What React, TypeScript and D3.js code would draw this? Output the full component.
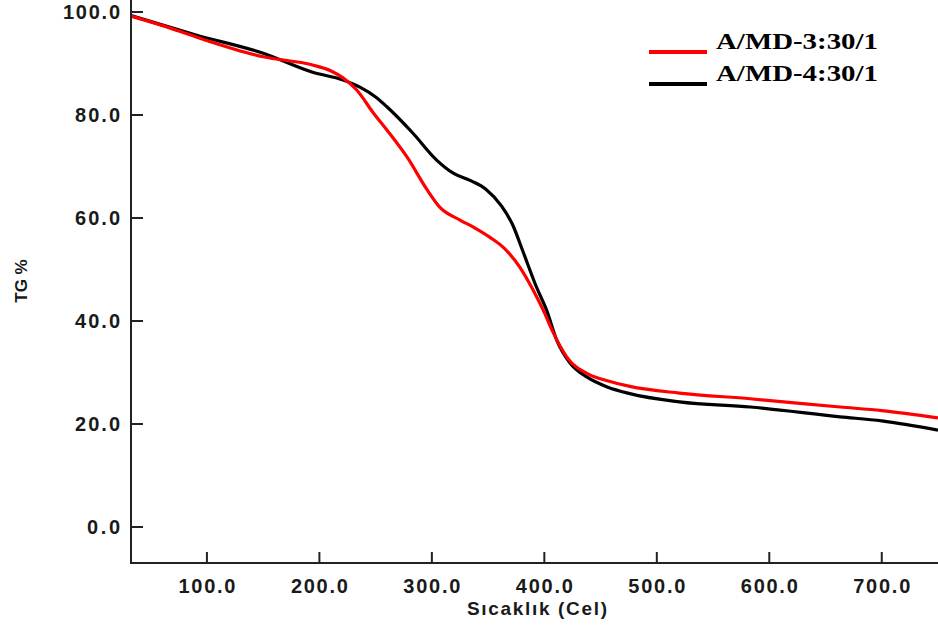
import React from "react";
import * as d3 from "d3";

const redT = [32.5, 60, 91, 150, 194, 210, 221, 233, 248, 260, 278, 296, 307, 325, 338, 352, 364, 378, 390, 399, 408, 420, 440, 456, 476, 520, 583, 663, 700, 750];
const redV = [99.2, 97.4, 95.1, 91.3, 89.7, 88.6, 87.2, 84.9, 80.4, 77.1, 71.8, 65.4, 62.1, 59.6, 58.1, 56.2, 54.2, 50.5, 46.0, 42.1, 37.7, 33.0, 29.6, 28.4, 27.3, 26.0, 24.9, 23.3, 22.6, 21.2];

const blackT = [32.5, 60, 91, 150, 194, 221, 236, 250, 260, 283, 304, 319, 335, 348, 362, 372, 381, 393, 402, 411, 423, 438, 456, 476, 520, 583, 663, 700, 750];
const blackV = [99.3, 97.5, 95.5, 92.0, 88.3, 86.8, 85.4, 83.5, 81.6, 76.5, 71.3, 68.7, 67.2, 65.6, 62.3, 58.6, 53.5, 46.6, 42.1, 36.3, 31.8, 29.1, 27.2, 25.9, 24.3, 23.3, 21.4, 20.6, 18.8];

const xTicks = [100, 200, 300, 400, 500, 600, 700];
const yTicks = [0, 20, 40, 60, 80, 100];

const seriesNames = ["A/MD-3:30/1", "A/MD-4:30/1"];
const seriesColors = ["#ff0000", "#000000"];

function labelLen(s: string) {
  let n = 0;
  for (const c of s) n += c === "." ? 9 : 12;
  return n;
}

export default function App() {
  const W = 938, H = 628;
  const x = d3.scaleLinear().domain([32.5, 750]).range([131, 938]);
  const y = d3.scaleLinear().domain([0, 100]).range([527, 12]);
  const line = d3
    .line<[number, number]>()
    .x((d) => x(d[0]))
    .y((d) => y(d[1]))
    .curve(d3.curveMonotoneX);

  const redData = redT.map((t, i) => [t, redV[i]] as [number, number]);
  const blackData = blackT.map((t, i) => [t, blackV[i]] as [number, number]);

  const axisY = 563;
  const tickFont = "'Liberation Sans', Arial, sans-serif";

  return (
    <svg
      width={W}
      height={H}
      style={{ position: "absolute", left: 0, top: 0, background: "#fff" }}
    >
      <rect x={0} y={0} width={W} height={H} fill="#fff" />
      <path d={line(blackData) || ""} fill="none" stroke={seriesColors[1]} strokeWidth={3.2} />
      <path d={line(redData) || ""} fill="none" stroke={seriesColors[0]} strokeWidth={3.2} />

      <line x1={131} x2={131} y1={0} y2={axisY} stroke="#222" strokeWidth={2} />
      <line x1={130} x2={W} y1={axisY} y2={axisY} stroke="#222" strokeWidth={2} />

      {yTicks.map((t) => {
        const s = t.toFixed(1);
        return (
          <g key={"y" + t}>
            <line x1={131} x2={143} y1={y(t)} y2={y(t)} stroke="#222" strokeWidth={2} />
            <text
              x={120}
              y={y(t)}
              dy="0.36em"
              textAnchor="end"
              fontFamily={tickFont}
              fontWeight="bold"
              fontSize={20}
              fill="#1a1a1a"
              textLength={labelLen(s)}
            >
              {s}
            </text>
          </g>
        );
      })}

      {xTicks.map((t) => {
        const s = t.toFixed(1);
        return (
          <g key={"x" + t}>
            <line x1={x(t)} x2={x(t)} y1={axisY} y2={axisY - 11} stroke="#222" strokeWidth={2} />
            <text
              x={x(t)}
              y={593}
              textAnchor="middle"
              fontFamily={tickFont}
              fontWeight="bold"
              fontSize={20}
              fill="#1a1a1a"
              textLength={labelLen(s)}
            >
              {s}
            </text>
          </g>
        );
      })}

      <text
        x={537}
        y={615}
        textAnchor="middle"
        fontFamily={tickFont}
        fontWeight="bold"
        fontSize={19}
        fill="#1a1a1a"
        textLength={140}
      >
        Sıcaklık (Cel)
      </text>

      <text
        transform="translate(27,281) rotate(-90)"
        textAnchor="middle"
        fontFamily={tickFont}
        fontWeight="bold"
        fontSize={17}
        fill="#1a1a1a"
      >
        TG %
      </text>

      {seriesNames.map((n, i) => (
        <g key={n}>
          <line
            x1={649}
            x2={707}
            y1={52 + i * 32}
            y2={52 + i * 32}
            stroke={seriesColors[i]}
            strokeWidth={4}
          />
          <text
            x={716}
            y={49 + i * 32}
            fontFamily="'Liberation Serif', 'Times New Roman', serif"
            fontWeight="bold"
            fontSize={23}
            fill="#000"
            textLength={162}
            lengthAdjust="spacingAndGlyphs"
          >
            {n}
          </text>
        </g>
      ))}
    </svg>
  );
}
